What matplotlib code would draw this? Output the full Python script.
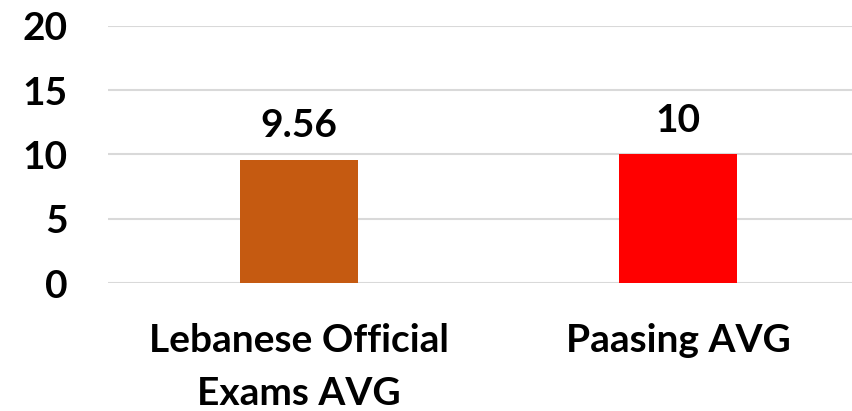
import matplotlib
matplotlib.use("Agg")
import matplotlib.pyplot as plt

categories = ["Lebanese Official\nExams AVG", "Paasing AVG"]
values = [9.56, 10]
value_labels = ["9.56", "10"]
colors = ["#C55A11", "#FF0000"]
yticks = [0, 5, 10, 15, 20]

plt.rcParams["font.family"] = ["Lato", "DejaVu Sans"]
plt.rcParams["font.weight"] = "bold"

fig = plt.figure(figsize=(8.53, 4.11), dpi=100)
ax = fig.add_axes([108 / 853, 1 - 283 / 411, 1 - 108 / 853, (283 - 26) / 411])

x = list(range(len(categories)))
bars = ax.bar(x, values, width=0.31, color=colors, zorder=3)

for bar, lab in zip(bars, value_labels):
    ax.annotate(lab, (bar.get_x() + bar.get_width() / 2, bar.get_height()),
                xytext=(0, 12), textcoords="offset points",
                ha="center", va="bottom", fontsize=28, fontweight="bold")

ax.set_xlim(-0.504, 1.462)
ax.set_ylim(0, 20)
ax.set_yticks(yticks)
ax.set_yticklabels([str(t) for t in yticks], fontsize=28, fontweight="bold")
ax.set_xticks(x)
ax.set_xticklabels(categories, fontsize=28, fontweight="bold", linespacing=1.6)
ax.tick_params(axis="y", length=0, pad=29)
ax.tick_params(axis="x", length=0, pad=29)
ax.grid(axis="y", color="#D9D9D9", linewidth=1.5, zorder=0)
for s in ax.spines.values():
    s.set_visible(False)

fig.savefig("out.png", dpi=100)
plt.close(fig)
